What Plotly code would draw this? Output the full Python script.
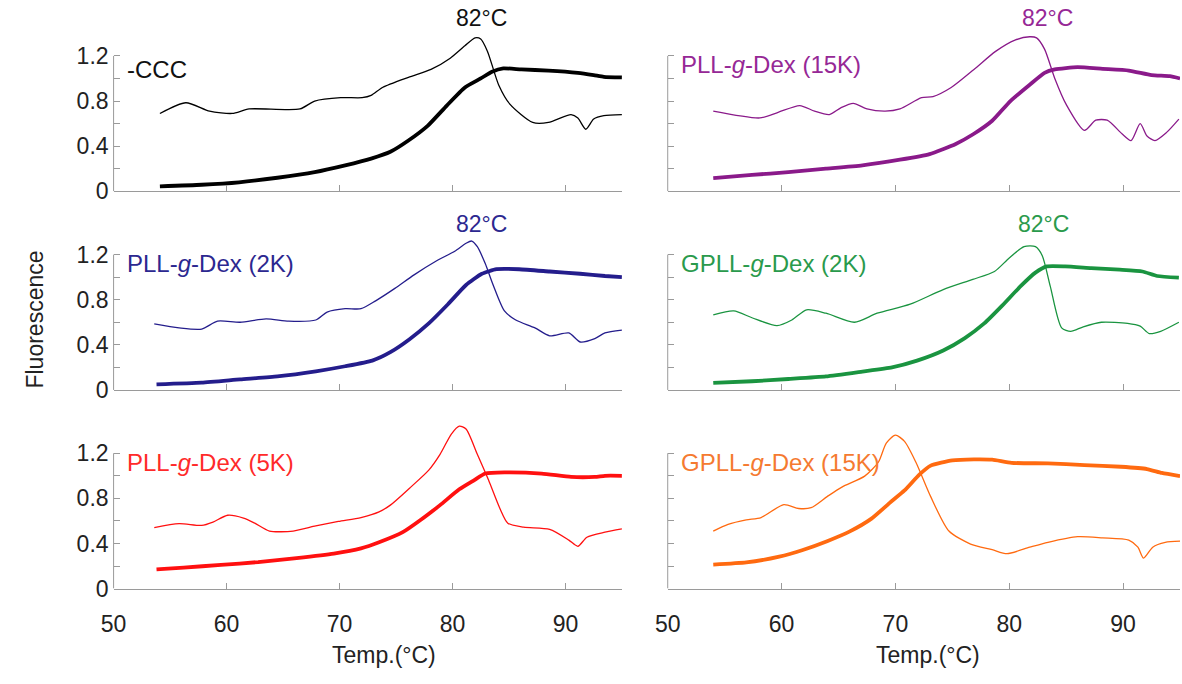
import plotly.graph_objects as go
from plotly.subplots import make_subplots

# ---------------- data ----------------
# Panel 1: -CCC (black)
ccc_melt_x = [54.1, 57.8, 61.1, 64.5, 67.8, 70.5, 72.8, 74.5, 76.1, 77.8, 79.5, 81.1, 82.5, 83.5, 84.5, 86.1, 88.5, 91.1, 92.5, 93.4, 95.0]
ccc_melt_y = [0.044, 0.058, 0.08, 0.12, 0.17, 0.23, 0.29, 0.35, 0.45, 0.58, 0.76, 0.92, 1.00, 1.06, 1.09, 1.08, 1.07, 1.05, 1.03, 1.015, 1.01]
ccc_deriv_x = [54.1, 56.4, 58.5, 60.5, 62.0, 66.5, 67.8, 70.1, 72.0, 72.8, 73.8, 76.1, 78.1, 79.8, 81.1, 82.0, 82.5, 83.1, 84.1, 85.1, 87.1, 88.5, 90.5, 91.1, 91.8, 92.5, 93.4, 95.0]
ccc_deriv_y = [0.69, 0.785, 0.71, 0.69, 0.73, 0.73, 0.80, 0.83, 0.83, 0.85, 0.92, 1.01, 1.08, 1.18, 1.29, 1.36, 1.35, 1.24, 0.94, 0.77, 0.61, 0.61, 0.68, 0.65, 0.55, 0.64, 0.67, 0.68]

# Panel 2: PLL-g-Dex (15K) (purple)
p15_melt_x = [54.0, 57.4, 60.6, 63.9, 67.1, 70.4, 73.0, 75.3, 76.9, 78.5, 80.1, 81.8, 83.1, 84.0, 86.0, 88.2, 90.5, 92.5, 94.1, 95.0]
p15_melt_y = [0.116, 0.145, 0.17, 0.20, 0.23, 0.28, 0.33, 0.42, 0.51, 0.625, 0.80, 0.945, 1.05, 1.08, 1.10, 1.085, 1.07, 1.03, 1.02, 1.00]
p15_deriv_x = [54.0, 58.1, 59.7, 61.6, 62.9, 64.2, 65.2, 66.3, 67.5, 69.1, 70.4, 72.3, 73.3, 74.9, 76.9, 78.8, 80.5, 81.8, 82.4, 83.1, 84.0, 85.0, 86.6, 87.6, 88.6, 89.9, 90.7, 91.5, 92.1, 92.8, 93.8, 94.9]
p15_deriv_y = [0.71, 0.65, 0.70, 0.76, 0.71, 0.68, 0.74, 0.78, 0.73, 0.71, 0.73, 0.83, 0.84, 0.92, 1.08, 1.24, 1.34, 1.37, 1.36, 1.26, 1.00, 0.77, 0.54, 0.63, 0.63, 0.51, 0.45, 0.60, 0.49, 0.45, 0.52, 0.64]

# Panel 3: PLL-g-Dex (2K) (navy)
p2_melt_x = [53.8, 57.8, 61.2, 64.5, 67.9, 70.5, 72.9, 74.5, 76.2, 77.9, 79.6, 81.2, 82.6, 83.9, 85.9, 88.6, 91.3, 93.5, 95.0]
p2_melt_y = [0.05, 0.065, 0.094, 0.12, 0.165, 0.21, 0.26, 0.335, 0.45, 0.59, 0.76, 0.93, 1.03, 1.07, 1.07, 1.05, 1.03, 1.01, 1.00]
p2_deriv_x = [53.6, 55.8, 57.8, 59.2, 61.2, 63.5, 65.5, 67.9, 68.9, 70.5, 71.9, 73.2, 74.9, 76.6, 78.6, 80.2, 81.2, 81.7, 82.2, 82.9, 83.6, 84.6, 85.6, 87.3, 88.6, 90.3, 91.3, 92.6, 93.5, 95.0]
p2_deriv_y = [0.585, 0.55, 0.54, 0.61, 0.60, 0.63, 0.61, 0.62, 0.69, 0.72, 0.72, 0.79, 0.90, 1.02, 1.145, 1.23, 1.30, 1.32, 1.27, 1.12, 0.93, 0.70, 0.62, 0.55, 0.48, 0.505, 0.425, 0.455, 0.505, 0.53]

# Panel 4: GPLL-g-Dex (2K) (green)
g2_melt_x = [54.0, 57.4, 60.6, 63.9, 67.1, 69.7, 71.9, 74.2, 76.1, 77.8, 79.4, 81.0, 82.3, 83.3, 84.9, 87.2, 89.7, 91.7, 93.0, 94.9]
g2_melt_y = [0.063, 0.077, 0.097, 0.12, 0.163, 0.20, 0.26, 0.35, 0.46, 0.59, 0.75, 0.92, 1.04, 1.095, 1.095, 1.08, 1.066, 1.05, 1.01, 0.995]
g2_deriv_x = [54.0, 55.8, 57.4, 59.6, 60.9, 62.2, 63.9, 66.4, 68.4, 71.3, 74.2, 76.8, 78.7, 80.0, 81.3, 82.3, 82.9, 83.6, 84.6, 85.4, 86.5, 88.1, 90.4, 91.5, 92.3, 93.3, 94.9]
g2_deriv_y = [0.665, 0.70, 0.64, 0.57, 0.62, 0.71, 0.68, 0.60, 0.68, 0.76, 0.89, 0.98, 1.05, 1.17, 1.27, 1.27, 1.19, 0.92, 0.55, 0.52, 0.56, 0.60, 0.59, 0.565, 0.50, 0.52, 0.60]

# Panel 5: PLL-g-Dex (5K) (red)
p5_melt_x = [53.8, 56.2, 59.5, 62.8, 66.2, 69.5, 71.9, 73.5, 75.6, 77.2, 78.9, 80.6, 81.9, 82.9, 84.6, 87.9, 90.5, 92.6, 93.5, 95.0]
p5_melt_y = [0.17, 0.186, 0.21, 0.235, 0.27, 0.31, 0.356, 0.41, 0.50, 0.61, 0.74, 0.88, 0.96, 1.02, 1.03, 1.02, 0.99, 0.99, 1.00, 1.00]
p5_deriv_x = [53.6, 55.8, 57.8, 58.8, 60.1, 61.5, 62.5, 63.8, 65.9, 67.9, 69.9, 71.9, 73.5, 74.5, 76.2, 77.9, 78.9, 79.9, 80.6, 81.2, 82.2, 83.2, 84.2, 84.9, 86.3, 88.6, 90.3, 91.1, 91.9, 93.5, 95.0]
p5_deriv_y = [0.54, 0.575, 0.56, 0.59, 0.65, 0.625, 0.58, 0.51, 0.51, 0.555, 0.595, 0.63, 0.68, 0.74, 0.89, 1.05, 1.19, 1.37, 1.44, 1.415, 1.19, 0.96, 0.71, 0.58, 0.545, 0.525, 0.43, 0.375, 0.455, 0.50, 0.53]

# Panel 6: GPLL-g-Dex (15K) (orange)
g15_melt_x = [54.0, 56.9, 59.8, 61.8, 64.0, 66.0, 67.9, 69.5, 70.8, 72.1, 73.1, 75.0, 76.9, 78.5, 80.2, 83.4, 86.6, 89.8, 92.1, 93.4, 95.0]
g15_melt_y = [0.213, 0.232, 0.283, 0.34, 0.42, 0.507, 0.62, 0.76, 0.87, 1.01, 1.09, 1.137, 1.146, 1.143, 1.115, 1.11, 1.095, 1.08, 1.06, 1.025, 0.997]
g15_deriv_x = [54.0, 55.3, 56.9, 58.2, 60.2, 61.5, 62.6, 64.0, 65.3, 67.3, 68.5, 69.2, 70.0, 70.8, 71.8, 73.1, 74.7, 76.6, 78.5, 79.8, 81.8, 83.4, 86.0, 88.2, 90.5, 91.3, 91.8, 92.6, 93.7, 95.0]
g15_deriv_y = [0.51, 0.57, 0.61, 0.63, 0.745, 0.71, 0.717, 0.815, 0.90, 0.997, 1.12, 1.29, 1.36, 1.305, 1.12, 0.815, 0.51, 0.395, 0.345, 0.31, 0.367, 0.41, 0.46, 0.45, 0.43, 0.367, 0.27, 0.367, 0.41, 0.42]

panel_names = ["-CCC", "PLL-<i>g</i>-Dex (15K)", "PLL-<i>g</i>-Dex (2K)",
               "GPLL-<i>g</i>-Dex (2K)", "PLL-<i>g</i>-Dex (5K)", "GPLL-<i>g</i>-Dex (15K)"]
peak_labels = ["82°C", "82°C", "82°C", "82°C", "81°C", "70°C"]
peak_label_x = [82.6, 83.4, 82.6, 83.0, 81.5, 68.8]
colors = ["#000000", "#8a1a8a", "#241d8c", "#1a9440", "#ff1010", "#ff6a10"]
text_colors = ["#111111", "#962896", "#2c2890", "#2a9a4c", "#ff2a2a", "#f57a30"]

x_ticks = [50, 60, 70, 80, 90]
y_ticks = [0, 0.2, 0.4, 0.6, 0.8, 1.0, 1.2]
y_tick_text = ["0", "", "0.4", "", "0.8", "", "1.2"]

melts = [(ccc_melt_x, ccc_melt_y), (p15_melt_x, p15_melt_y), (p2_melt_x, p2_melt_y),
         (g2_melt_x, g2_melt_y), (p5_melt_x, p5_melt_y), (g15_melt_x, g15_melt_y)]
derivs = [(ccc_deriv_x, ccc_deriv_y), (p15_deriv_x, p15_deriv_y), (p2_deriv_x, p2_deriv_y),
          (g2_deriv_x, g2_deriv_y), (p5_deriv_x, p5_deriv_y), (g15_deriv_x, g15_deriv_y)]

# ---------------- figure ----------------
W, H = 1182, 684
FONT = "Arial, Liberation Sans, sans-serif"
fig = make_subplots(rows=3, cols=2)

x_dom = [[101.7 / W, 615.7 / W], [662 / W, 1180 / W]]
y_zero_px = [195, 397.5, 600]
y_max = 1.55
px_per_unit = 115
panel_h = y_max * px_per_unit

for i in range(6):
    r, c = i // 2, i % 2
    ax_id = "" if i == 0 else str(i + 1)
    mx, my = melts[i]
    dx, dy = derivs[i]
    fig.add_trace(go.Scatter(x=dx, y=dy, mode="lines",
                             line=dict(color=colors[i], width=1.3, shape="spline", smoothing=0.7),
                             showlegend=False, hoverinfo="skip"), row=r + 1, col=c + 1)
    fig.add_trace(go.Scatter(x=mx, y=my, mode="lines",
                             line=dict(color=colors[i], width=3.8, shape="spline", smoothing=0.5),
                             showlegend=False, hoverinfo="skip"), row=r + 1, col=c + 1)
    bottom = 1 - y_zero_px[r] / H
    top = bottom + panel_h / H
    fig.layout["xaxis" + ax_id].update(
        domain=x_dom[c], range=[50, 95], showgrid=False, zeroline=False,
        showline=True, linecolor="#9a9a9a", linewidth=1,
        ticks="inside", ticklen=6, tickcolor="#9a9a9a",
        tickvals=x_ticks, showticklabels=(r == 2), ticklabelstandoff=15,
        tickfont=dict(family=FONT, size=23, color="#222222"))
    fig.layout["yaxis" + ax_id].update(
        domain=[bottom, top], range=[0, y_max], showgrid=False, zeroline=False,
        showline=False, ticks="inside", ticklen=6, tickcolor="#9a9a9a",
        tickvals=y_ticks, ticktext=(y_tick_text if c == 0 else [""] * 7),
        showticklabels=(c == 0), ticklabelstandoff=4,
        tickfont=dict(family=FONT, size=23, color="#222222"))
    xref = "x" + ax_id
    yref = "y" + ax_id
    fig.add_shape(type="line", xref=xref + " domain", yref=yref,
                  x0=0, x1=0, y0=0, y1=1.2, line=dict(color="#9a9a9a", width=1))
    fig.add_annotation(x=51.0, y=(1.08 if i == 0 else 1.12), xref=xref, yref=yref,
                       text=panel_names[i], showarrow=False, xanchor="left", yanchor="middle",
                       font=dict(family=FONT, size=24, color=text_colors[i]))
    fig.add_annotation(x=peak_label_x[i], y=(1.61 if r == 2 else (1.47 if r == 1 else 1.54)),
                       xref=xref, yref=yref, text=peak_labels[i], showarrow=False,
                       xanchor="center", yanchor="middle",
                       font=dict(family=FONT, size=23, color=text_colors[i]))

fig.add_annotation(x=22 / W, y=1 - 326 / H, xref="paper", yref="paper", text="Fluorescence",
                   textangle=-90, showarrow=False, xanchor="center", yanchor="middle",
                   font=dict(family=FONT, size=23, color="#222222"))
for cx in [375, 925]:
    fig.add_annotation(x=cx / W, y=1 - 668 / H, xref="paper", yref="paper", text="Temp.(°C)",
                       showarrow=False, xanchor="center", yanchor="middle",
                       font=dict(family=FONT, size=23, color="#222222"))

fig.update_layout(width=W, height=H, margin=dict(l=0, r=0, t=0, b=0),
                  plot_bgcolor="white", paper_bgcolor="white")

fig.write_html("out.html")
